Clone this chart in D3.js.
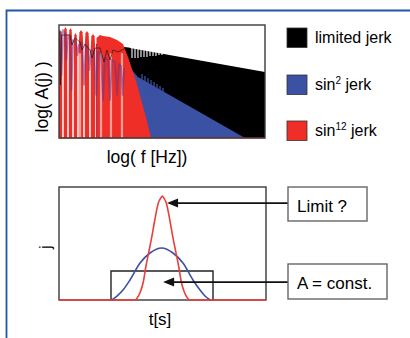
<!DOCTYPE html>
<html><head><meta charset="utf-8">
<script src="https://cdn.jsdelivr.net/npm/d3@7"></script>
<style>html,body{margin:0;padding:0;background:#fff;} svg{display:block;font-family:"Liberation Sans",Arial,sans-serif;}</style>
</head><body>
<svg id="c" width="410" height="338"></svg>
<script>
// ---------------- data ----------------
const legendLabels = [["limited jerk", ""], ["sin", "2"], ["sin", "12"]];
// top panel: x = log10 f (decades 0..3), y = log10 |A(j)| (-4..0)
const redNotchF = [0, 0.058, 0.131, 0.204, 0.277, 0.364, 0.451, 0.539];
const redLobeA  = [-0.177, -0.071, -0.106, -0.283, -0.177, -0.212, -0.319];
const redTailF  = [0.546, 0.597, 0.641, 0.743, 0.845, 0.932, 1.005, 1.131, 1.277, 1.340];
const redTailA  = [-0.460, -0.354, -0.389, -0.425, -0.531, -0.673, -1.133, -2.053, -3.363, -4];
const redStripeF = [0.306, 0.612, 0.757, 0.917];
const blueTailF = [0.539, 0.714, 0.874, 1.034, 1.150, 2.709];
const blueTailA = [-0.708, -0.814, -1.062, -1.522, -1.841, -4];
const blueSpikeF = [1.209, 1.252, 1.296, 1.340, 1.384, 1.427, 1.471, 1.514];
const blueSpikeA = [-1.735, -1.805, -1.876, -1.947, -2.018, -2.088, -2.159, -2.230];
const blueLowF = [0.015,0.036,0.058,0.087,0.109,0.131,0.160,0.182,0.204,0.248,0.269,0.291,0.335,0.364,0.393,0.422,0.444,0.466,0.510,0.539,0.568,0.612,0.641,0.670,0.714,0.743,0.772,0.815,0.845,0.874,0.903,0.925,0.947];
const blueLowA = [-0.248,-1.770,-0.177,-0.283,-1.239,-0.354,-0.531,-2.301,-0.531,-0.602,-1.062,-0.708,-0.602,-2.124,-0.708,-0.814,-1.593,-0.885,-0.956,-2.478,-0.956,-1.062,-2.655,-1.168,-1.239,-2.655,-1.239,-1.310,-2.478,-1.381,-1.451,-2.478,-1.522];
const blackTailF = [0.539, 0.714, 0.874, 1.034, 3.0];
const blackTailA = [-0.673, -0.708, -0.743, -0.814, -1.664];
const blackLowF = [0.007,0.022,0.036,0.160,0.189,0.233,0.306,0.335,0.379,0.451,0.481,0.524,0.597,0.655,0.699,0.743,0.786,0.859,0.917,0.976,1.034];
const blackLowA = [-0.177,-2.124,-0.354,-0.354,-0.708,-0.460,-0.602,-0.885,-0.673,-0.885,-1.168,-0.814,-0.814,-1.310,-0.885,-1.239,-0.885,-0.956,-0.885,-0.814,-0.814];
const blackSlitF = [1.063,1.107,1.150,1.194,1.238,1.281,1.325,1.369,1.412,1.456,1.500];
const blackSlitA = [-1.168,-1.168,-1.168,-1.133,-1.133,-1.133,-1.097,-1.097,-1.097,-1.062,-1.062];
// bottom panel: t (0..1), j (0..1)
const tRed = [0, 0.3686, 0.3758, 0.3928, 0.4072, 0.4193, 0.4338, 0.4483, 0.4628, 0.4797, 0.4918, 0.4990, 0.5063, 0.5184, 0.5353, 0.5498, 0.5643, 0.5787, 0.5908, 0.6053, 0.6222, 0.6295, 1];
const jRed = [0, 0, 0.013, 0.071, 0.159, 0.292, 0.425, 0.558, 0.708, 0.858, 0.903, 0.920, 0.903, 0.858, 0.708, 0.558, 0.425, 0.292, 0.159, 0.071, 0.013, 0, 0];
const tBlue = [0.2546, 0.2802, 0.3092, 0.3430, 0.3913, 0.4396, 0.4961, 0.5507, 0.5990, 0.6473, 0.6812, 0.7053, 0.7295];
const jBlue = [0, 0.035, 0.088, 0.177, 0.327, 0.416, 0.460, 0.416, 0.327, 0.177, 0.088, 0.035, 0];
const limT = [0.2512, 0.744];
const limJ = 0.257;
const notes = ["Limit ?", "A = const."];

// ---------------- drawing ----------------
const svg = d3.select("#c");
const C = {black:"#000", blue:"#3b51a3", red:"#ee2e27", pink:"#f4a09a", purple:"#6b3488", frame:"#1f57a5", box:"#3a3a3a"};

svg.append("path").attr("d","M6.5,338V10.5H410").attr("fill","none").attr("stroke",C.frame).attr("stroke-width",1.8);

const xT = d3.scaleLinear().domain([0,3]).range([59,265]);
const yT = d3.scaleLinear().domain([-4,0]).range([138,25]);
const gT = svg.append("g");
const lin = d3.line().x(d=>xT(d[0])).y(d=>yT(d[1]));
svg.append("clipPath").attr("id","clipT").append("rect").attr("x",59).attr("y",25).attr("width",206).attr("height",113);
gT.attr("clip-path","url(#clipT)");

// black
const blackPts = [[blackTailF[0],-4], ...blackTailF.map((f,i)=>[f,blackTailA[i]]), [3,-4]];
gT.append("path").attr("d", lin(blackPts)+"Z").attr("fill",C.black);
blackSlitF.forEach((f,i)=>{
  gT.append("line").attr("x1",xT(f)).attr("x2",xT(f)).attr("y1",yT(-0.5)).attr("y2",yT(blackSlitA[i]))
    .attr("stroke","#fff").attr("stroke-width",1.1);
});
// blue
const bluePts = [[blueTailF[0],-4], ...blueTailF.map((f,i)=>[f,blueTailA[i]])];
gT.append("path").attr("d", lin(bluePts)+"Z").attr("fill",C.blue);
blueSpikeF.forEach((f,i)=>{
  gT.append("line").attr("x1",xT(f)).attr("x2",xT(f)).attr("y1",yT(blueSpikeA[i])).attr("y2",yT(blueSpikeA[i]-0.4))
    .attr("stroke",C.blue).attr("stroke-width",1.3);
});
// red lobes
for (let i=0;i<redLobeA.length;i++){
  const a=redNotchF[i], b=redNotchF[i+1], p=redLobeA[i], w=b-a, g=(i===0?0:0.011), g2=0.011;
  const pts=[[a+g,-4],[a+g,p-0.5],[a+g+0.12*w,p-0.08],[(a+b)/2,p],[b-g2-0.12*w,p-0.08],[b-g2,p-0.5],[b-g2,-4]];
  gT.append("path").attr("d", lin(pts)+"Z").attr("fill",C.red);
}
const redTail = [[redTailF[0],-4], ...redTailF.map((f,i)=>[f,redTailA[i]])];
gT.append("path").attr("d", lin(redTail)+"Z").attr("fill",C.red);
redStripeF.forEach(f=>{
  gT.append("line").attr("x1",xT(f)).attr("x2",xT(f)).attr("y1",yT(-1.0)).attr("y2",yT(-4))
    .attr("stroke",C.pink).attr("stroke-width",2.2);
});
// low-frequency overlapping traces
gT.append("path").attr("d", lin(blueLowF.map((f,i)=>[f,blueLowA[i]]))).attr("fill","none")
  .attr("stroke",C.purple).attr("stroke-width",1.8).attr("stroke-opacity",0.55).attr("stroke-linejoin","round");
gT.append("path").attr("d", lin(blackLowF.map((f,i)=>[f,blackLowA[i]]))).attr("fill","none")
  .attr("stroke","#111").attr("stroke-width",1).attr("stroke-opacity",0.6);
svg.append("line").attr("x1",xT(0)).attr("x2",xT(3)).attr("y1",yT(-4)).attr("y2",yT(-4)).attr("stroke",C.red).attr("stroke-width",1.2);
svg.append("rect").attr("x",59).attr("y",25).attr("width",206).attr("height",113).attr("fill","none").attr("stroke",C.box).attr("stroke-width",1.4);

svg.append("text").attr("x",147).attr("y",163).attr("text-anchor","middle").attr("font-size",17.5).text("log( f [Hz])");
svg.append("text").attr("transform","translate(48,97) rotate(-90)").attr("text-anchor","middle").attr("font-size",17.5).text("log( A(j) )");

// legend
const legColors=[C.black, C.blue, C.red];
const legY=[28,75,121];
legendLabels.forEach((l,i)=>{
  svg.append("rect").attr("x",287).attr("y",legY[i]).attr("width",20).attr("height",19.5).attr("fill",legColors[i]).attr("stroke","#333").attr("stroke-width",0.8);
  const t=svg.append("text").attr("x",315).attr("y",legY[i]+15).attr("font-size",16);
  if(l[1]===""){ t.text(l[0]); }
  else {
    t.append("tspan").text(l[0]);
    t.append("tspan").attr("font-size",10).attr("dy",-6).text(l[1]);
    t.append("tspan").attr("dy",6).text(" jerk");
  }
});

// bottom panel
const xB = d3.scaleLinear().domain([0,1]).range([59,266]);
const yB = d3.scaleLinear().domain([0,1]).range([300,187]);
svg.append("rect").attr("x",59).attr("y",187).attr("width",207).attr("height",113).attr("fill","none").attr("stroke",C.box).attr("stroke-width",1.4);
const lB = d3.line().x(d=>xB(d[0])).y(d=>yB(d[1]));
svg.append("path").attr("d", lB([[limT[0],0],[limT[0],limJ],[limT[1],limJ],[limT[1],0]])).attr("fill","none").attr("stroke","#222").attr("stroke-width",1.4);
svg.append("path").attr("d", lB.curve(d3.curveMonotoneX)(tBlue.map((t,i)=>[t,jBlue[i]]))).attr("fill","none").attr("stroke",C.blue).attr("stroke-width",1.6);
svg.append("path").attr("d", lB.curve(d3.curveMonotoneX)(tRed.map((t,i)=>[t,jRed[i]]))).attr("fill","none").attr("stroke","#e8403a").attr("stroke-width",1.6);

svg.append("text").attr("x",160).attr("y",325).attr("text-anchor","middle").attr("font-size",17).text("t[s]");
svg.append("text").attr("transform","translate(51,247) rotate(-90)").attr("text-anchor","middle").attr("font-size",17).text("j");

function arrow(y, x0, x1){
  svg.append("line").attr("x1",x0).attr("x2",x1+8).attr("y1",y).attr("y2",y).attr("stroke","#111").attr("stroke-width",1.8);
  svg.append("path").attr("d",`M${x1},${y}L${x1+11},${y-4.5}L${x1+11},${y+4.5}Z`).attr("fill","#111");
}
arrow(yB(jRed[11])+7, 288, xB(0.522));
arrow(yB(0.159), 288, xB(0.503));
const boxes=[{x:288,y:187,w:79,h:34},{x:288,y:264,w:99,h:35}];
boxes.forEach((b,i)=>{
  svg.append("rect").attr("x",b.x).attr("y",b.y).attr("width",b.w).attr("height",b.h).attr("fill","#fff").attr("stroke","#666").attr("stroke-width",1.4);
  svg.append("text").attr("x",b.x+9).attr("y",b.y+25).attr("font-size",17).text(notes[i]);
});
</script>
</body></html>
